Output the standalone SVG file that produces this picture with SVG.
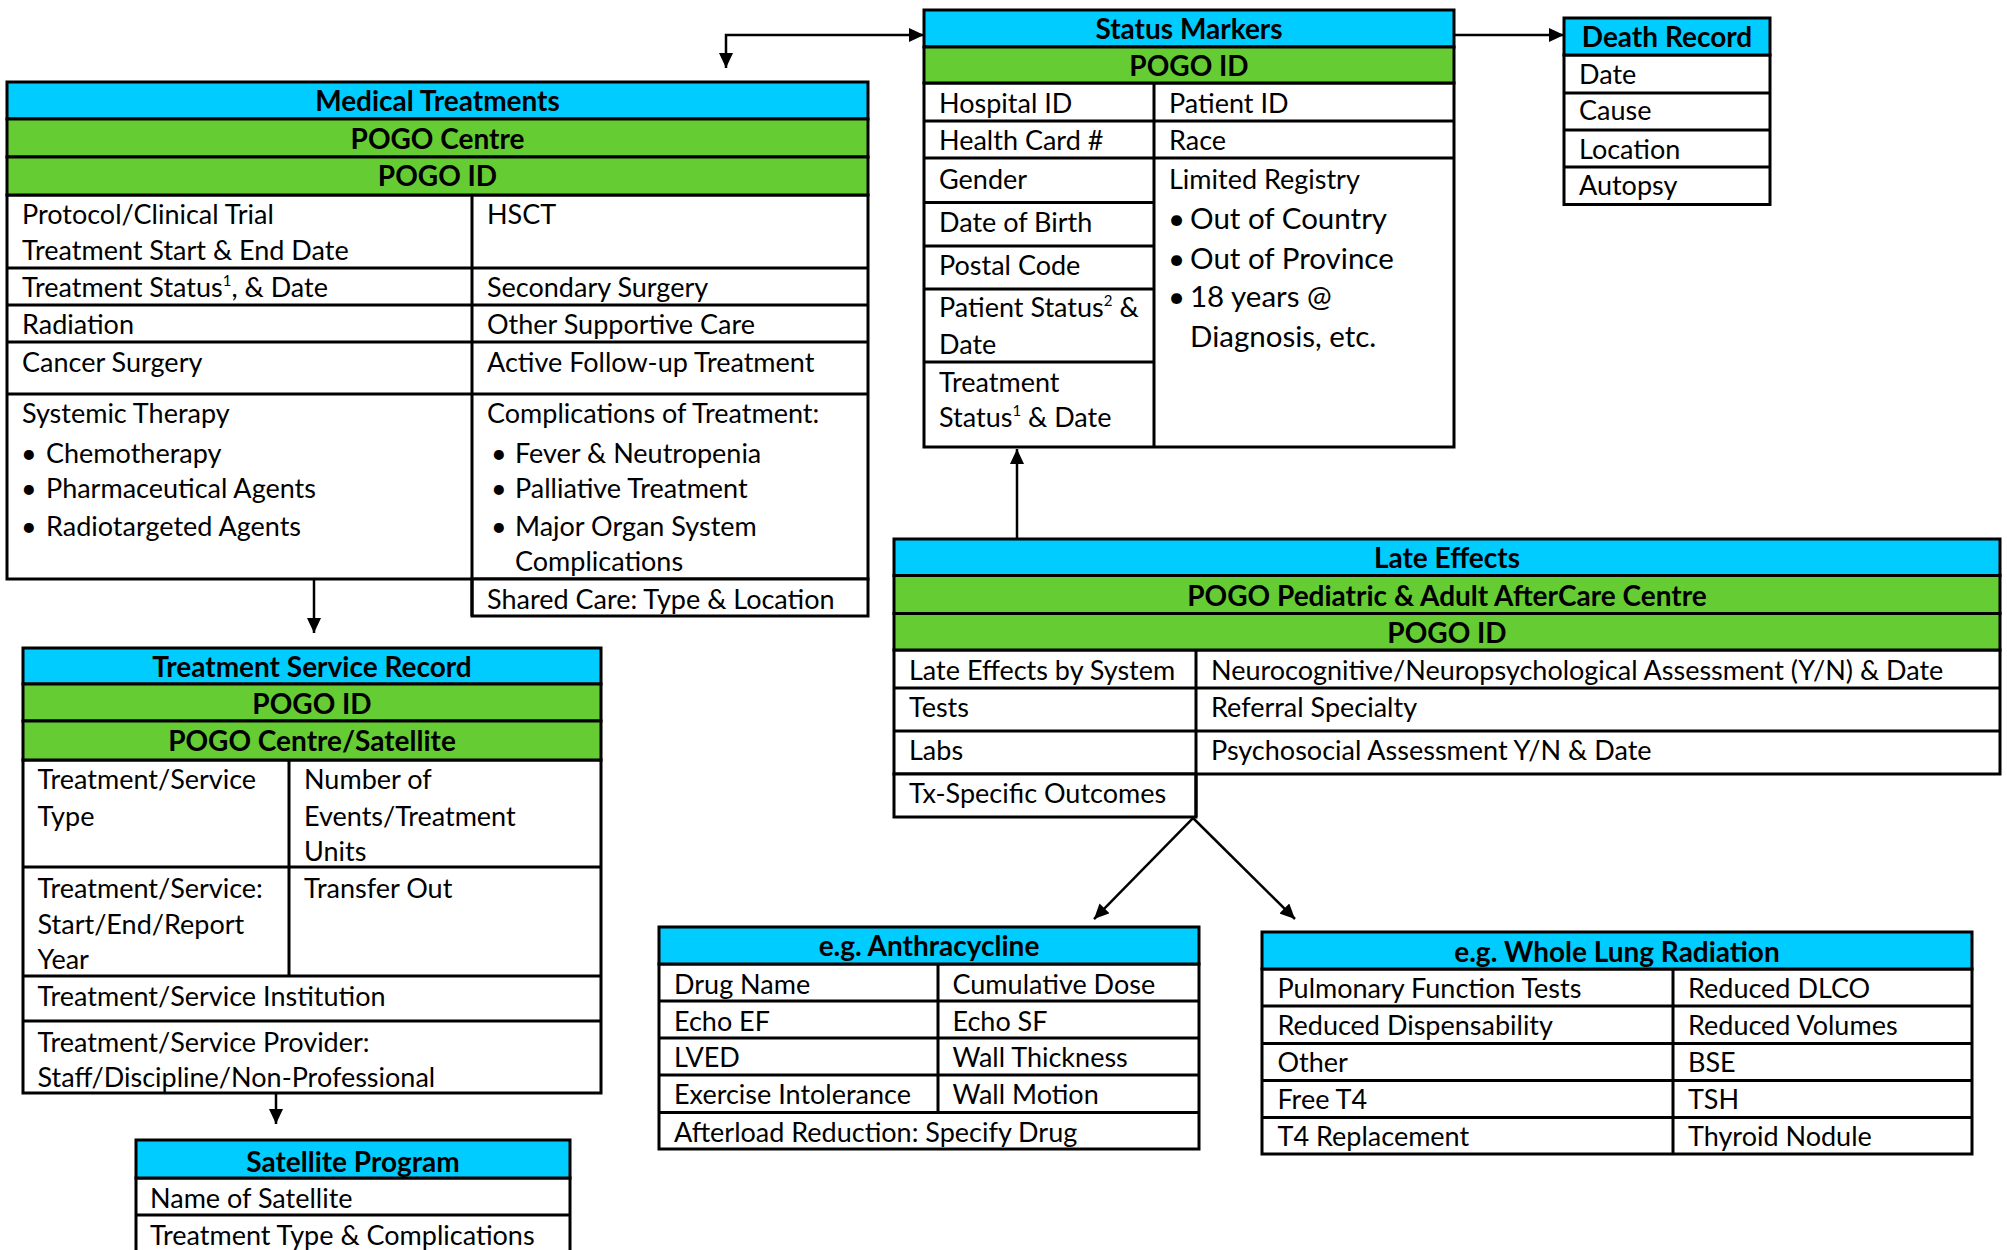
<svg xmlns="http://www.w3.org/2000/svg" width="2007" height="1250" viewBox="0 0 2007 1250">
<style>
.cy{fill:#00CCFF;stroke:#000;stroke-width:3}
.gr{fill:#66CC33;stroke:#000;stroke-width:3}
.wh{fill:#FFFFFF;stroke:#000;stroke-width:3}
.ln{stroke:#000;stroke-width:3;fill:none}
.t{font-family:"Lato","Liberation Sans",sans-serif;font-size:27px;fill:#000;transform:translateY(1.5px)}
.b{font-family:"Lato","Liberation Sans",sans-serif;font-size:28px;font-weight:bold;text-anchor:middle;fill:#000;transform:translateY(1.5px)}
.bl{font-size:29.5px}
.sup{font-size:15px}
.cn{stroke:#000;stroke-width:2.5;fill:none}
</style>
<defs>
<marker id="ah" markerUnits="userSpaceOnUse" markerWidth="16" markerHeight="14" refX="15" refY="7" orient="auto-start-reverse">
<path d="M0,0 L15,7 L0,14 z" fill="#000"/>
</marker>
</defs>
<rect width="2007" height="1250" fill="#FFFFFF"/>

<g id="connectors">
<path class="cn" d="M726,68 V35 H924" marker-start="url(#ah)" marker-end="url(#ah)"/>
<path class="cn" d="M1454,35 H1564" marker-end="url(#ah)"/>
<path class="cn" d="M314,579 V633" marker-end="url(#ah)"/>
<path class="cn" d="M276,1091 V1124" marker-end="url(#ah)"/>
<path class="cn" d="M1017,539 V449" marker-end="url(#ah)"/>
<path class="cn" d="M1193,818 L1094,919" marker-end="url(#ah)"/>
<path class="cn" d="M1193,818 L1295,919" marker-end="url(#ah)"/>
</g>

<g id="medical-treatments">
<rect class="wh" x="7" y="195" width="861" height="384"/>
<rect class="wh" x="472" y="579" width="396" height="37"/>
<rect class="cy" x="7" y="82" width="861" height="37"/>
<rect class="gr" x="7" y="119" width="861" height="38"/>
<rect class="gr" x="7" y="157" width="861" height="38"/>
<path class="ln" d="M7,268 H868 M7,305 H868 M7,342 H868 M7,394 H868 M472,195 V616"/>
<text class="b" x="437.5" y="109">Medical Treatments</text>
<text class="b" x="437.5" y="147">POGO Centre</text>
<text class="b" x="437.5" y="184">POGO ID</text>
<text class="t" x="22" y="222">Protocol/Clinical Trial</text>
<text class="t" x="22" y="258">Treatment Start &amp; End Date</text>
<text class="t" x="487" y="222">HSCT</text>
<text class="t" x="22" y="295">Treatment Status<tspan class="sup" dy="-11">1</tspan><tspan dy="11">, &amp; Date</tspan></text>
<text class="t" x="487" y="295">Secondary Surgery</text>
<text class="t" x="22" y="332">Radiation</text>
<text class="t" x="487" y="332">Other Supportive Care</text>
<text class="t" x="22" y="370">Cancer Surgery</text>
<text class="t" x="487" y="370">Active Follow-up Treatment</text>
<text class="t" x="22" y="421">Systemic Therapy</text>
<text class="t" x="21" y="461">•</text><text class="t" x="46" y="461">Chemotherapy</text>
<text class="t" x="21" y="496">•</text><text class="t" x="46" y="496">Pharmaceutical Agents</text>
<text class="t" x="21" y="534">•</text><text class="t" x="46" y="534">Radiotargeted Agents</text>
<text class="t" x="487" y="421">Complications of Treatment:</text>
<text class="t" x="491" y="461">•</text><text class="t" x="515" y="461">Fever &amp; Neutropenia</text>
<text class="t" x="491" y="496">•</text><text class="t" x="515" y="496">Palliative Treatment</text>
<text class="t" x="491" y="534">•</text><text class="t" x="515" y="534">Major Organ System</text>
<text class="t" x="515" y="569">Complications</text>
<text class="t" x="487" y="607">Shared Care: Type &amp; Location</text>
</g>

<g id="status-markers">
<rect class="wh" x="924" y="83" width="530" height="364"/>
<rect class="cy" x="924" y="10" width="530" height="37"/>
<rect class="gr" x="924" y="47" width="530" height="36"/>
<path class="ln" d="M924,121 H1454 M924,158 H1454 M924,202.5 H1154 M924,246 H1154 M924,289 H1154 M924,362 H1154 M1154,83 V447"/>
<text class="b" x="1189" y="37">Status Markers</text>
<text class="b" x="1189" y="74">POGO ID</text>
<text class="t" x="939" y="111">Hospital ID</text>
<text class="t" x="1169" y="111">Patient ID</text>
<text class="t" x="939" y="148">Health Card #</text>
<text class="t" x="1169" y="148">Race</text>
<text class="t" x="939" y="187">Gender</text>
<text class="t" x="939" y="230">Date of Birth</text>
<text class="t" x="939" y="273">Postal Code</text>
<text class="t" x="939" y="315">Patient Status<tspan class="sup" dy="-11">2</tspan><tspan dy="11"> &amp;</tspan></text>
<text class="t" x="939" y="352">Date</text>
<text class="t" x="939" y="390">Treatment</text>
<text class="t" x="939" y="425">Status<tspan class="sup" dy="-11">1</tspan><tspan dy="11"> &amp; Date</tspan></text>
<text class="t" x="1169" y="187">Limited Registry</text>
<text class="t bl" x="1168" y="227">•</text><text class="t bl" x="1190" y="227">Out of Country</text>
<text class="t bl" x="1168" y="267">•</text><text class="t bl" x="1190" y="267">Out of Province</text>
<text class="t bl" x="1168" y="305">•</text><text class="t bl" x="1190" y="305">18 years @</text>
<text class="t bl" x="1190" y="345">Diagnosis, etc.</text>
</g>

<g id="death-record">
<rect class="wh" x="1564" y="55" width="206" height="149.5"/>
<rect class="cy" x="1564" y="18" width="206" height="37"/>
<path class="ln" d="M1564,93 H1770 M1564,130 H1770 M1564,167 H1770"/>
<text class="b" x="1667" y="45">Death Record</text>
<text class="t" x="1579" y="82">Date</text>
<text class="t" x="1579" y="118">Cause</text>
<text class="t" x="1579" y="157">Location</text>
<text class="t" x="1579" y="193.5">Autopsy</text>
</g>

<g id="late-effects">
<rect class="wh" x="894" y="650" width="1106" height="124"/>
<rect class="wh" x="894" y="774" width="302" height="43"/>
<rect class="cy" x="894" y="539" width="1106" height="36.5"/>
<rect class="gr" x="894" y="575.5" width="1106" height="38"/>
<rect class="gr" x="894" y="613.5" width="1106" height="36.5"/>
<path class="ln" d="M894,688 H2000 M894,731 H2000 M1196,650 V817"/>
<text class="b" x="1447" y="566.5">Late Effects</text>
<text class="b" x="1447" y="604.5">POGO Pediatric &amp; Adult AfterCare Centre</text>
<text class="b" x="1447" y="641">POGO ID</text>
<text class="t" x="909" y="678.5">Late Effects by System</text>
<text class="t" x="1211" y="678.5">Neurocognitive/Neuropsychological Assessment (Y/N) &amp; Date</text>
<text class="t" x="909" y="715">Tests</text>
<text class="t" x="1211" y="715">Referral Specialty</text>
<text class="t" x="909" y="758">Labs</text>
<text class="t" x="1211" y="758">Psychosocial Assessment Y/N &amp; Date</text>
<text class="t" x="909" y="801.5">Tx-Specific Outcomes</text>
</g>

<g id="treatment-service-record">
<rect class="wh" x="23" y="760" width="578" height="333"/>
<rect class="cy" x="23" y="648" width="578" height="36"/>
<rect class="gr" x="23" y="684" width="578" height="37"/>
<rect class="gr" x="23" y="721" width="578" height="39"/>
<path class="ln" d="M23,867 H601 M23,976 H601 M23,1021 H601 M289,760 V976"/>
<text class="b" x="312" y="675">Treatment Service Record</text>
<text class="b" x="312" y="712">POGO ID</text>
<text class="b" x="312" y="749">POGO Centre/Satellite</text>
<text class="t" x="37.5" y="787">Treatment/Service</text>
<text class="t" x="37.5" y="824">Type</text>
<text class="t" x="304" y="787">Number of</text>
<text class="t" x="304" y="824">Events/Treatment</text>
<text class="t" x="304" y="859">Units</text>
<text class="t" x="37.5" y="896">Treatment/Service:</text>
<text class="t" x="37.5" y="932">Start/End/Report</text>
<text class="t" x="37.5" y="967">Year</text>
<text class="t" x="304" y="896">Transfer Out</text>
<text class="t" x="37.5" y="1004">Treatment/Service Institution</text>
<text class="t" x="37.5" y="1050">Treatment/Service Provider:</text>
<text class="t" x="37.5" y="1085">Staff/Discipline/Non-Professional</text>
</g>

<g id="satellite-program">
<rect class="wh" x="136" y="1178" width="434" height="80"/>
<rect class="cy" x="136" y="1140" width="434" height="38"/>
<path class="ln" d="M136,1215 H570"/>
<text class="b" x="353" y="1170">Satellite Program</text>
<text class="t" x="150" y="1206">Name of Satellite</text>
<text class="t" x="150" y="1243">Treatment Type &amp; Complications</text>
</g>

<g id="anthracycline">
<rect class="wh" x="659" y="964" width="540" height="185"/>
<rect class="cy" x="659" y="927" width="540" height="37"/>
<path class="ln" d="M659,1001 H1199 M659,1038 H1199 M659,1075 H1199 M659,1112.5 H1199 M938,964 V1112.5"/>
<text class="b" x="929" y="954">e.g. Anthracycline</text>
<text class="t" x="674" y="992">Drug Name</text>
<text class="t" x="952.5" y="992">Cumulative Dose</text>
<text class="t" x="674" y="1029">Echo EF</text>
<text class="t" x="952.5" y="1029">Echo SF</text>
<text class="t" x="674" y="1065">LVED</text>
<text class="t" x="952.5" y="1065">Wall Thickness</text>
<text class="t" x="674" y="1102.5">Exercise Intolerance</text>
<text class="t" x="952.5" y="1102.5">Wall Motion</text>
<text class="t" x="674" y="1140">Afterload Reduction: Specify Drug</text>
</g>

<g id="whole-lung-radiation">
<rect class="wh" x="1262" y="969" width="710" height="185"/>
<rect class="cy" x="1262" y="932" width="710" height="37"/>
<path class="ln" d="M1262,1006 H1972 M1262,1043.5 H1972 M1262,1080.5 H1972 M1262,1117.5 H1972 M1673,969 V1154"/>
<text class="b" x="1617" y="960">e.g. Whole Lung Radiation</text>
<text class="t" x="1277.5" y="996">Pulmonary Function Tests</text>
<text class="t" x="1688" y="996">Reduced DLCO</text>
<text class="t" x="1277.5" y="1033">Reduced Dispensability</text>
<text class="t" x="1688" y="1033">Reduced Volumes</text>
<text class="t" x="1277.5" y="1070">Other</text>
<text class="t" x="1688" y="1070">BSE</text>
<text class="t" x="1277.5" y="1107">Free T4</text>
<text class="t" x="1688" y="1107">TSH</text>
<text class="t" x="1277.5" y="1144">T4 Replacement</text>
<text class="t" x="1688" y="1144">Thyroid Nodule</text>
</g>
</svg>
